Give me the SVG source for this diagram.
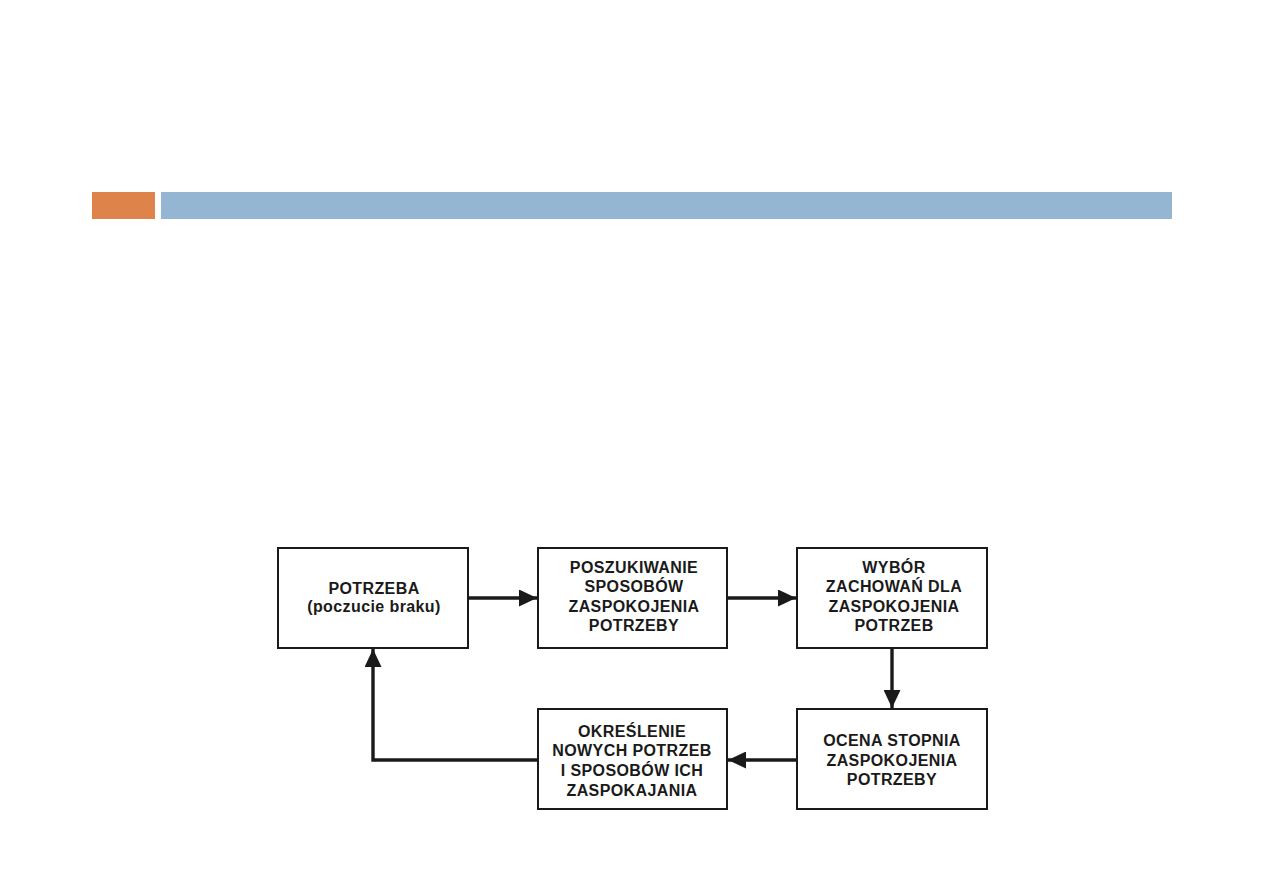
<svg xmlns="http://www.w3.org/2000/svg" width="1263" height="893" viewBox="0 0 1263 893">
<style>
.box{fill:#fff;stroke:#1a1a1a;stroke-width:2}
.t{font-family:"Liberation Sans",Arial,sans-serif;font-weight:bold;font-size:16px;letter-spacing:0.4px;fill:#1a1a1a;text-anchor:middle}
.c{fill:none;stroke:#1a1a1a;stroke-width:3.4}
</style>
<defs>
<marker id="ah" markerWidth="18" markerHeight="17" refX="18" refY="8.5" orient="auto" markerUnits="userSpaceOnUse" viewBox="0 0 18 17">
<path d="M0,0 L18,8.5 L0,17 Z" fill="#1a1a1a"/>
</marker>
</defs>
<rect width="1263" height="893" fill="#fff"/>
<rect x="92" y="192" width="63" height="27" fill="#de8349"/>
<rect x="161" y="192" width="1011" height="27" fill="#94b6d3"/>
<g id="connectors">
<path class="c" d="M469,598 L537,598" marker-end="url(#ah)"/>
<path class="c" d="M728,598 L796,598" marker-end="url(#ah)"/>
<path class="c" d="M892,649 L892,708" marker-end="url(#ah)"/>
<path class="c" d="M797,760 L728,760" marker-end="url(#ah)"/>
<path class="c" d="M538,760 L373,760 L373,649" marker-end="url(#ah)"/>
</g>
<g id="n1">
<rect class="box" x="278" y="548" width="190" height="100"/>
<text class="t" x="374" y="594">POTRZEBA</text>
<text class="t" x="374" y="612">(poczucie braku)</text>
</g>
<g id="n2">
<rect class="box" x="538" y="548" width="189" height="100"/>
<text class="t" x="634" y="573">POSZUKIWANIE</text>
<text class="t" x="634" y="592">SPOSOBÓW</text>
<text class="t" x="634" y="612">ZASPOKOJENIA</text>
<text class="t" x="634" y="631">POTRZEBY</text>
</g>
<g id="n3">
<rect class="box" x="797" y="548" width="190" height="100"/>
<text class="t" x="894" y="573">WYBÓR</text>
<text class="t" x="894" y="592">ZACHOWAŃ DLA</text>
<text class="t" x="894" y="612">ZASPOKOJENIA</text>
<text class="t" x="894" y="631">POTRZEB</text>
</g>
<g id="n4">
<rect class="box" x="797" y="709" width="190" height="100"/>
<text class="t" x="892" y="746">OCENA STOPNIA</text>
<text class="t" x="892" y="766">ZASPOKOJENIA</text>
<text class="t" x="892" y="785">POTRZEBY</text>
</g>
<g id="n5">
<rect class="box" x="538" y="709" width="189" height="100"/>
<text class="t" x="632" y="737">OKREŚLENIE</text>
<text class="t" x="632" y="756">NOWYCH POTRZEB</text>
<text class="t" x="632" y="776">I SPOSOBÓW ICH</text>
<text class="t" x="632" y="796">ZASPOKAJANIA</text>
</g>
</svg>
